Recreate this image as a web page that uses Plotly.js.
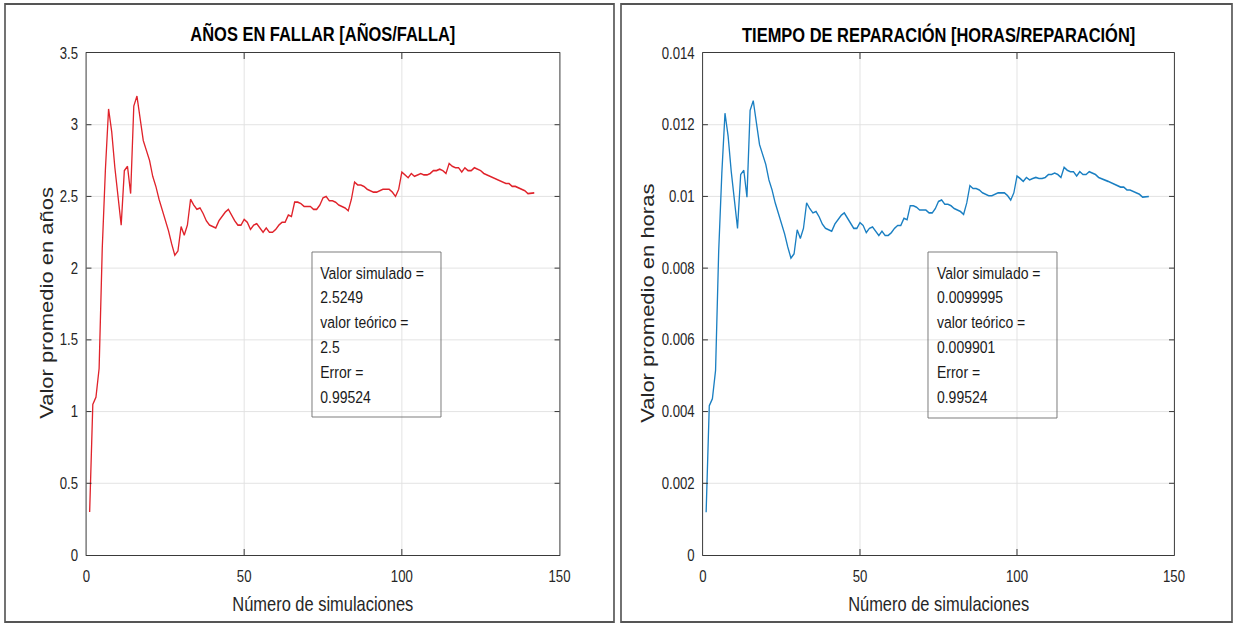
<!DOCTYPE html>
<html>
<head>
<meta charset="utf-8">
<script src="https://cdn.plot.ly/plotly-3.0.1.min.js"></script>
<style>
html, body { margin: 0; padding: 0; overflow: hidden; background: #fff; }
#wrap { width: 1235px; height: 626px; overflow: hidden; position: relative; }
#chart { width: 1500px; height: 626px; transform: scaleX(0.82333); transform-origin: 0 0; }
</style>
</head>
<body>
<div id="wrap"><div id="chart"></div></div>
<script>
// ---- data ----
const simulaciones = Array.from({length: 142}, (_, i) => i + 1);

const aniosFallar = [
  0.30, 1.05, 1.10, 1.30, 2.14, 2.69, 3.11, 2.95, 2.70, 2.50,
  2.30, 2.68, 2.71, 2.52, 3.13, 3.20, 3.05, 2.89, 2.82, 2.75,
  2.64, 2.57, 2.48, 2.41, 2.34, 2.26, 2.17, 2.09, 2.12, 2.29,
  2.23, 2.30, 2.48, 2.44, 2.41, 2.42, 2.38, 2.33, 2.30, 2.29,
  2.28, 2.33, 2.36, 2.39, 2.41, 2.37, 2.33, 2.30, 2.30, 2.34,
  2.32, 2.27, 2.30, 2.31, 2.28, 2.25, 2.28, 2.25, 2.25, 2.27,
  2.30, 2.32, 2.32, 2.37, 2.36, 2.46, 2.46, 2.45, 2.43, 2.43,
  2.43, 2.41, 2.41, 2.44, 2.49, 2.50, 2.47, 2.47, 2.46, 2.44,
  2.43, 2.42, 2.40, 2.48, 2.60, 2.58, 2.58, 2.57, 2.55, 2.54,
  2.53, 2.53, 2.54, 2.55, 2.55, 2.55, 2.53, 2.50, 2.55, 2.67,
  2.65, 2.63, 2.66, 2.64, 2.65, 2.66, 2.65, 2.65, 2.66, 2.68,
  2.68, 2.69, 2.68, 2.66, 2.73, 2.71, 2.70, 2.70, 2.67, 2.70,
  2.68, 2.68, 2.70, 2.69, 2.68, 2.66, 2.65, 2.64, 2.63, 2.62,
  2.61, 2.60, 2.59, 2.59, 2.57, 2.57, 2.56, 2.55, 2.54, 2.52,
  2.52, 2.5249
];

const tiempoReparacion = [
  0.00119, 0.00416, 0.00436, 0.00515, 0.00848, 0.01065, 0.01232, 0.01168, 0.01069, 0.00990,
  0.00911, 0.01061, 0.01073, 0.00998, 0.01240, 0.01267, 0.01208, 0.01145, 0.01117, 0.01089,
  0.01046, 0.01018, 0.00982, 0.00954, 0.00927, 0.00895, 0.00859, 0.00828, 0.00840, 0.00907,
  0.00883, 0.00911, 0.00982, 0.00966, 0.00954, 0.00958, 0.00943, 0.00923, 0.00911, 0.00907,
  0.00903, 0.00923, 0.00935, 0.00947, 0.00954, 0.00939, 0.00923, 0.00911, 0.00911, 0.00927,
  0.00919, 0.00899, 0.00911, 0.00915, 0.00903, 0.00891, 0.00903, 0.00891, 0.00891, 0.00899,
  0.00911, 0.00919, 0.00919, 0.00939, 0.00935, 0.00974, 0.00974, 0.00970, 0.00962, 0.00962,
  0.00962, 0.00954, 0.00954, 0.00966, 0.00986, 0.00990, 0.00978, 0.00978, 0.00974, 0.00966,
  0.00962, 0.00958, 0.00950, 0.00982, 0.01030, 0.01022, 0.01022, 0.01018, 0.01010, 0.01006,
  0.01002, 0.01002, 0.01006, 0.01010, 0.01010, 0.01010, 0.01002, 0.00990, 0.01010, 0.01057,
  0.01050, 0.01042, 0.01053, 0.01046, 0.01050, 0.01053, 0.01050, 0.01050, 0.01053, 0.01061,
  0.01061, 0.01065, 0.01061, 0.01053, 0.01081, 0.01073, 0.01069, 0.01069, 0.01057, 0.01069,
  0.01061, 0.01061, 0.01069, 0.01065, 0.01061, 0.01053, 0.01050, 0.01046, 0.01042, 0.01038,
  0.01034, 0.01030, 0.01026, 0.01026, 0.01018, 0.01018, 0.01014, 0.01010, 0.01006, 0.00998,
  0.00998, 0.0099995
];

const titulos = ['AÑOS EN FALLAR [AÑOS/FALLA]', 'TIEMPO DE REPARACIÓN [HORAS/REPARACIÓN]'];
const tituloX = 'Número de simulaciones';
const titulosY = ['Valor promedio en años', 'Valor promedio en horas'];
const cajaIzq = ['Valor simulado =', '2.5249', 'valor teórico =', '2.5', 'Error =', '0.99524'];
const cajaDer = ['Valor simulado =', '0.0099995', 'valor teórico =', '0.009901', 'Error =', '0.99524'];

// ---- layout helpers (pixel -> paper) ----
const W0 = 1235, H0 = 626;
const px = x => x / W0;
const py = y => 1 - y / H0;
const FONT = 'Liberation Sans, Arial, Helvetica, sans-serif';
const AX = '#262626';

function axisX(domain) {
  return {
    domain: domain, range: [0, 150], dtick: 50, tick0: 0,
    showline: true, linecolor: AX, linewidth: 1, mirror: 'ticks',
    ticks: 'inside', ticklen: 6, tickcolor: AX, tickwidth: 1,
    showgrid: true, gridcolor: '#e0e0e0', gridwidth: 1, zeroline: false,
    tickfont: {family: FONT, size: 16, color: AX},
    ticklabelstandoff: 7, fixedrange: true
  };
}
function axisY(range, dtick, anchor) {
  return {
    domain: [py(555), py(53)], range: range, dtick: dtick, tick0: 0, anchor: anchor,
    showline: true, linecolor: AX, linewidth: 1, mirror: 'ticks',
    ticks: 'inside', ticklen: 6, tickcolor: AX, tickwidth: 1,
    showgrid: true, gridcolor: '#e0e0e0', gridwidth: 1, zeroline: false,
    tickfont: {family: FONT, size: 16, color: AX},
    ticklabelstandoff: 6, fixedrange: true
  };
}

const traces = [
  {x: simulaciones, y: aniosFallar, type: 'scatter', mode: 'lines',
   line: {color: '#e0232b', width: 1.6}, xaxis: 'x', yaxis: 'y', hoverinfo: 'skip'},
  {x: simulaciones, y: tiempoReparacion, type: 'scatter', mode: 'lines',
   line: {color: '#1a7fc2', width: 1.6}, xaxis: 'x2', yaxis: 'y2', hoverinfo: 'skip'}
];

const annotations = [];
const shapes = [];
const panels = [
  {cx: 323, ycx: 46, box: [312, 252, 441, 417], tx: 319, lines: cajaIzq},
  {cx: 938.5, ycx: 647, box: [928, 252, 1057, 418], tx: 935, lines: cajaDer}
];
panels.forEach((p, i) => {
  annotations.push({xref: 'paper', yref: 'paper', x: px(p.cx), y: py(34),
    text: '<b>' + titulos[i] + '</b>', showarrow: false, xanchor: 'center', yanchor: 'middle',
    font: {family: FONT, size: 20, color: '#000'}});
  annotations.push({xref: 'paper', yref: 'paper', x: px(p.cx), y: py(604),
    text: tituloX, showarrow: false, xanchor: 'center', yanchor: 'middle',
    font: {family: FONT, size: 20, color: AX}});
  annotations.push({xref: 'paper', yref: 'paper', x: px(p.ycx), y: py(303),
    text: titulosY[i], showarrow: false, xanchor: 'center', yanchor: 'middle', textangle: -90,
    font: {family: FONT, size: 22, color: AX}});
  p.lines.forEach((t, k) => {
    annotations.push({xref: 'paper', yref: 'paper', x: px(p.tx), y: py(273 + k * 24.9),
      text: t, showarrow: false, xanchor: 'left', yanchor: 'middle',
      font: {family: FONT, size: 17, color: '#1a1a1a'}});
  });
  shapes.push({type: 'rect', xref: 'paper', yref: 'paper',
    x0: px(p.box[0]), x1: px(p.box[2]), y0: py(p.box[3]), y1: py(p.box[1]),
    line: {color: '#707070', width: 1}, fillcolor: 'rgba(0,0,0,0)'});
});
// outer frames
shapes.push({type: 'rect', xref: 'paper', yref: 'paper', x0: px(5), x1: px(614), y0: py(622), y1: py(4),
  line: {color: '#555', width: 2}, fillcolor: 'rgba(0,0,0,0)'});
shapes.push({type: 'rect', xref: 'paper', yref: 'paper', x0: px(621), x1: px(1232), y0: py(622), y1: py(4),
  line: {color: '#555', width: 2}, fillcolor: 'rgba(0,0,0,0)'});

const layout = {
  width: 1500, height: 626, autosize: false,
  margin: {l: 0, r: 0, t: 0, b: 0, pad: 0},
  paper_bgcolor: '#fff', plot_bgcolor: '#fff',
  showlegend: false,
  xaxis: axisX([px(86.5), px(559.5)]),
  yaxis: axisY([0, 3.5], 0.5, 'x'),
  xaxis2: Object.assign(axisX([px(703), px(1174)]), {anchor: 'y2'}),
  yaxis2: axisY([0, 0.014], 0.002, 'x2'),
  annotations: annotations,
  shapes: shapes
};
layout.xaxis.anchor = 'y';

Plotly.newPlot('chart', traces, layout, {displayModeBar: false, staticPlot: true});
</script>
</body>
</html>
